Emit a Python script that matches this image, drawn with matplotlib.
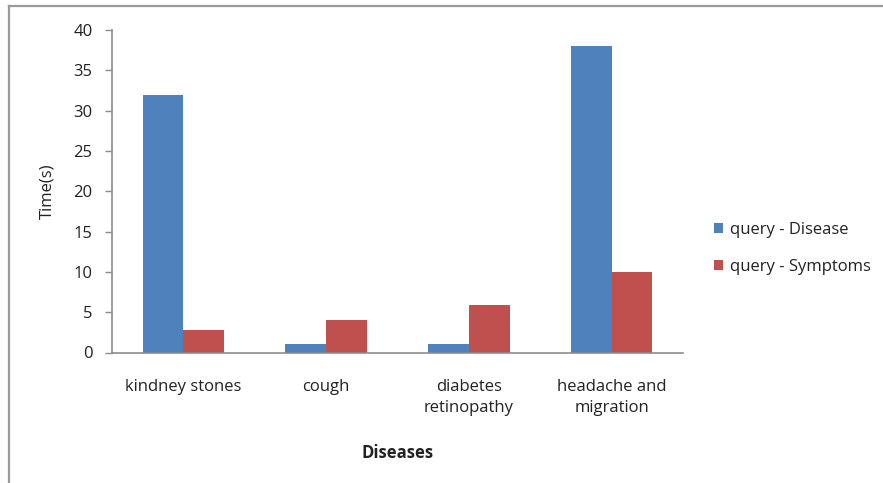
import matplotlib
matplotlib.use("Agg")
import numpy as np
from matplotlib import pyplot as plt
from matplotlib.lines import Line2D
from matplotlib.patches import Patch

# query times per disease
diseases = ["kindney stones", "cough", "diabetes\nretinopathy", "headache and\nmigration"]
disease_query = [32, 1, 1, 38]
symptom_query = [2.8, 4, 5.9, 10]
series_names = ["query - Disease", "query - Symptoms"]
y_ticks = [0, 5, 10, 15, 20, 25, 30, 35, 40]

BLUE = "#4F81BD"
RED = "#C0504D"
AXIS = "#8C8C8C"
TXT = "#222222"

plt.rcParams["font.family"] = ["Open Sans", "DejaVu Sans"]
FS = 12

W, H = 883, 483
fig = plt.figure(figsize=(W / 100, H / 100), dpi=100, facecolor="white")
ax = fig.add_axes((112 / W, 1 - 352.5 / H, (683 - 112) / W, (352.5 - 30) / H))

x = np.arange(len(diseases))
bw = 0.285
ax.bar(x - bw / 2, disease_query, bw, color=BLUE, label=series_names[0])
ax.bar(x + bw / 2, symptom_query, bw, color=RED, label=series_names[1])

ax.set_xlim(-0.5, len(diseases) - 0.5)
ax.set_ylim(0, 40)
ax.set_yticks(y_ticks)
ax.set_xticks(x)
ax.set_xticklabels(diseases, fontsize=FS, color=TXT, linespacing=1.45)
ax.tick_params(axis="x", length=0, pad=19)
ax.tick_params(axis="y", length=5, width=1, color=AXIS, pad=9, labelsize=FS, labelcolor=TXT)

for side in ("top", "right"):
    ax.spines[side].set_visible(False)
for side in ("left", "bottom"):
    ax.spines[side].set_color(AXIS)
    ax.spines[side].set_linewidth(1.2)

ax.set_ylabel("Time(s)", fontsize=FS, color=TXT, labelpad=13)
ax.set_xlabel("Diseases", fontsize=FS, color=TXT, fontweight="bold", labelpad=20)

handles = [Patch(facecolor=BLUE), Patch(facecolor=RED)]
fig.legend(handles, series_names, loc="center left",
           bbox_to_anchor=(699 / W, 1 - 248.5 / H), frameon=False,
           fontsize=FS, handlelength=0.55, handleheight=0.55,
           handletextpad=0.4, labelspacing=1.25, labelcolor=TXT)

# chart frame
fy = 1 - 6 / H
fx = 9 / W
fig.add_artist(Line2D([fx, fx], [0, fy], color="#9A9A9A", lw=1.6, transform=fig.transFigure))
fig.add_artist(Line2D([fx, 1], [fy, fy], color="#9A9A9A", lw=1.6, transform=fig.transFigure))

fig.savefig("out.png", dpi=100, facecolor="white")
